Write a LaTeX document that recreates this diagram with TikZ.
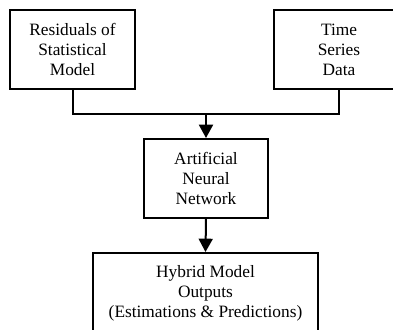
\documentclass[tikz,border=0pt]{standalone}
\usepackage{fontspec}
\setmainfont{Liberation Serif}
\usetikzlibrary{arrows.meta}
\begin{document}
\begin{tikzpicture}[x=0.75pt,y=-0.75pt,
  box/.style={draw, line width=1.5pt, align=center, inner sep=0pt,
    font=\fontsize{13pt}{15pt}\selectfont},
  link/.style={line width=1.5pt},
  arr/.style={line width=1.5pt, -{Triangle[length=10pt,width=10.5pt]}}]
\useasboundingbox (0,0) rectangle (393,329);
\clip (0,0) rectangle (393,329);
\node[box, minimum width=125*0.75pt, minimum height=79*0.75pt] (res) at (72.5,49.5)
  {Residuals of\\Statistical\\Model};
\node[box, minimum width=130*0.75pt, minimum height=79*0.75pt] (ts) at (339,49.5)
  {Time\\Series\\Data};
\node[box, minimum width=124*0.75pt, minimum height=79*0.75pt] (ann) at (206,178.5)
  {Artificial\\Neural\\Network};
\node[box, minimum width=225*0.75pt, minimum height=80*0.75pt] (hyb) at (205.5,293)
  {Hybrid Model\\Outputs\\(Estimations \& Predictions)};
\coordinate (join) at (206,114);
\draw[link] (res.south) |- (join) -| (ts.south);
\draw[arr] (join) -- (ann.north);
\draw[arr] (ann.south) -- (hyb.north);
\end{tikzpicture}
\end{document}
